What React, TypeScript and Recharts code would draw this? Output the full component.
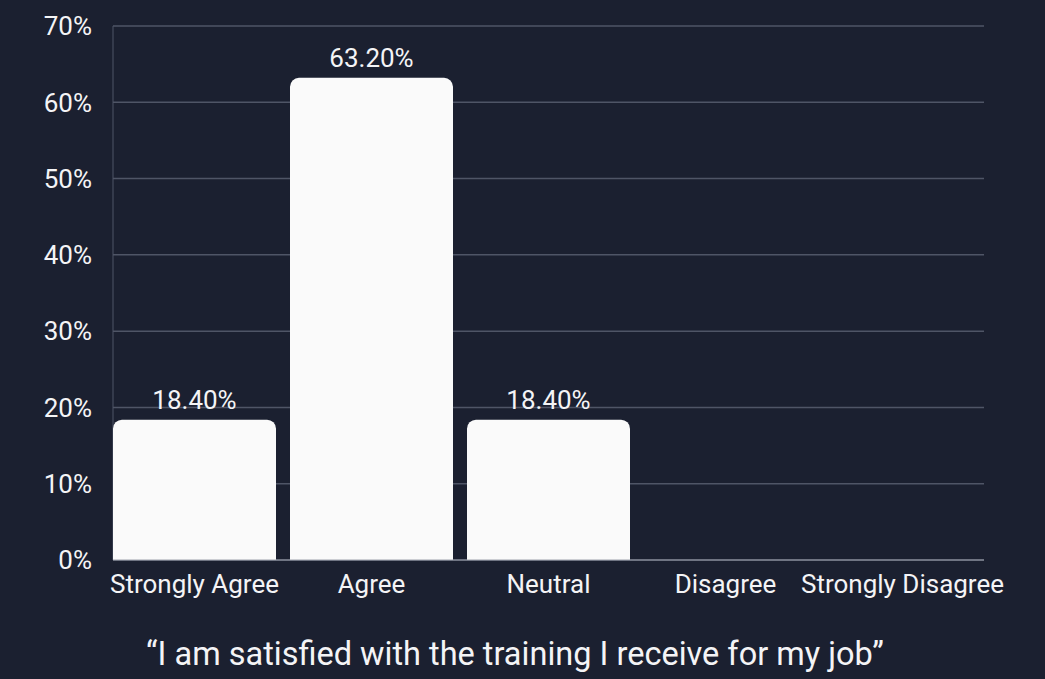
import React from "react";
import { BarChart, Bar, XAxis, YAxis, CartesianGrid, LabelList, ReferenceLine } from "recharts";

const categories = ["Strongly Agree", "Agree", "Neutral", "Disagree", "Strongly Disagree"];
const percentages = [18.4, 63.2, 18.4, 0, 0];
const yTicks = [0, 10, 20, 30, 40, 50, 60, 70];
const caption = "\u201CI am satisfied with the training I receive for my job\u201D";

const data = categories.map((c, i) => ({ name: c, value: percentages[i] }));

const BG = "#1b2030";
const TEXT = "#f4f4f6";
const GRID = "#4f5566";
const FONT = "Roboto, sans-serif";

const gridLine = (props: any) => {
  const { x1, x2, y1, y2, index } = props;
  return (
    <line
      key={`g-${index}-${y1}`}
      x1={x1 + 7}
      x2={x2 - 7}
      y1={y1}
      y2={y2}
      stroke={GRID}
      strokeWidth={1.5}
    />
  );
};

const vertLine = (props: any) => {
  const { x1, y1, y2, index } = props;
  return <line key={`v-${index}`} x1={x1} x2={x1} y1={y1} y2={y2} stroke={GRID} strokeWidth={1} />;
};

const baseLine = (props: any) => {
  const { x1, x2, y1, y2 } = props;
  return <line x1={x1 + 7} x2={x2 - 7} y1={y1} y2={y2} stroke="#9fa3ad" strokeWidth={1} />;
};

export default function App() {
  return (
    <div style={{ position: "absolute", left: 0, top: 0, width: 1045, height: 679, background: BG, fontFamily: FONT }}>
      <BarChart
        width={1045}
        height={679}
        data={data}
        margin={{ top: 26, right: 54, bottom: 79, left: 0 }}
        barCategoryGap={7}
      >
        <CartesianGrid
          horizontal={gridLine}
          vertical={vertLine}
          verticalCoordinatesGenerator={({ offset }: any) => [offset.left + 7]}
        />
        <XAxis
          dataKey="name"
          axisLine={false}
          tickLine={false}
          height={40}
          tickMargin={9}
          interval={0}
          tick={{ fill: TEXT, fontSize: 26, fontFamily: FONT }}
        />
        <YAxis
          width={106}
          domain={[0, 70]}
          ticks={yTicks}
          axisLine={false}
          tickLine={false}
          tickMargin={8}
          tickFormatter={(v: number) => `${v}%`}
          tick={{ fill: TEXT, fontSize: 26, fontFamily: FONT }}
        />
        <ReferenceLine y={0} shape={baseLine} />
        <Bar dataKey="value" fill="#fafafa" radius={[9, 9, 0, 0]} isAnimationActive={false}>
          <LabelList
            dataKey="value"
            position="top"
            offset={11}
            fill={TEXT}
            fontSize={26}
            fontFamily={FONT}
            formatter={(v: any) => (v > 0 ? `${Number(v).toFixed(2)}%` : "")}
          />
        </Bar>
      </BarChart>
      <svg width={1045} height={679} style={{ position: "absolute", left: 0, top: 0, pointerEvents: "none" }}>
        <text x={515} y={665} textAnchor="middle" fill={TEXT} fontSize={32.5} fontFamily={FONT}>
          {caption}
        </text>
      </svg>
    </div>
  );
}
